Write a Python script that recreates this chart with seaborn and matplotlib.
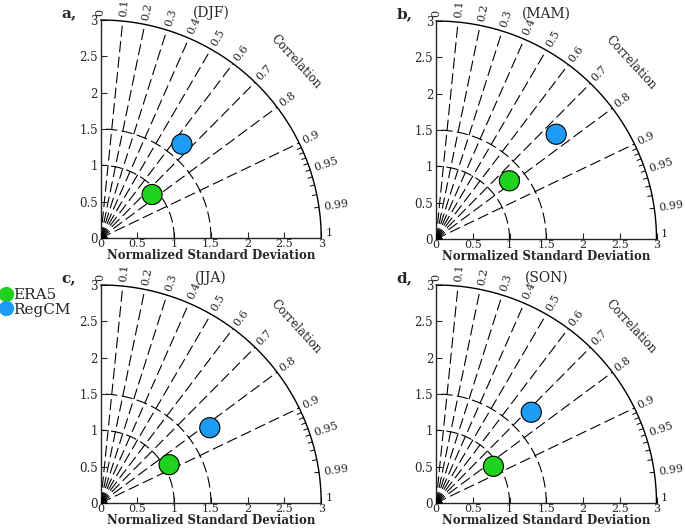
import numpy as np
import pandas as pd
import seaborn as sns
import matplotlib.pyplot as plt
from matplotlib.lines import Line2D

sns.set_style('ticks')
plt.rcParams['font.family'] = ['DejaVu Serif']

# data
seasons = ['DJF', 'MAM', 'JJA', 'SON']
panel_tags = ['a,', 'b,', 'c,', 'd,']
models = ['ERA5', 'RegCM']
era5_std = [0.92, 1.28, 1.07, 0.93]
era5_corr = [0.76, 0.78, 0.87, 0.84]
regcm_std = [1.70, 2.18, 1.81, 1.80]
regcm_corr = [0.65, 0.75, 0.82, 0.72]

corr_lines = [0.1, 0.2, 0.3, 0.4, 0.5, 0.6, 0.7, 0.8, 0.9]
corr_labels = [0, 0.1, 0.2, 0.3, 0.4, 0.5, 0.6, 0.7, 0.8, 0.9, 0.95, 0.99, 1]
corr_minor = [0.91, 0.92, 0.93, 0.94, 0.95, 0.96, 0.97, 0.98, 0.99]
std_arcs = [1.0, 1.5]
std_ticks = [0, 0.5, 1, 1.5, 2, 2.5, 3]
palette = {'ERA5': '#1ed21e', 'RegCM': '#1e9bf5'}

rows = []
for i, s in enumerate(seasons):
    rows.append([s, 'ERA5', era5_std[i], era5_corr[i]])
    rows.append([s, 'RegCM', regcm_std[i], regcm_corr[i]])
df = pd.DataFrame(rows, columns=['season', 'model', 'std', 'corr'])
df['x'] = df['std'] * df['corr']
df['y'] = df['std'] * np.sin(np.arccos(df['corr']))

fig = plt.figure(figsize=(6.85, 5.28), dpi=100)
w, h = 220.5 / 685, 218 / 528
positions = [(100.7 / 685, 290 / 528), (436 / 685, 289 / 528),
             (100.7 / 685, 25 / 528), (436 / 685, 25 / 528)]

dash = (0, (10, 4))
t = np.linspace(0, np.pi / 2, 300)

for k, s in enumerate(seasons):
    ax = fig.add_axes([positions[k][0], positions[k][1], w, h])
    ax.set_xlim(0, 3)
    ax.set_ylim(0, 3)

    # radial correlation lines
    for c in corr_lines:
        a = np.arccos(c)
        ax.plot([0, 3 * np.cos(a)], [0, 3 * np.sin(a)], color='black',
                lw=0.8, ls=dash, zorder=1)
    # std arcs
    for r in std_arcs:
        ax.plot(r * np.cos(t), r * np.sin(t), color='black', lw=0.8, ls=dash, zorder=1)
    # outer arc
    ax.plot(3 * np.cos(t), 3 * np.sin(t), color='black', lw=1.0, clip_on=False, zorder=2)
    for c in corr_minor:
        a = np.arccos(c)
        ax.plot([2.94 * np.cos(a), 3 * np.cos(a)], [2.94 * np.sin(a), 3 * np.sin(a)],
                color='black', lw=0.7, clip_on=False)
    for c in corr_labels:
        a = np.arccos(c)
        ax.text(3.06 * np.cos(a), 3.06 * np.sin(a), '%g' % c, fontsize=8,
                rotation=np.degrees(a), rotation_mode='anchor',
                ha='left', va='center' if c < 1 else 'bottom')
    ax.text(3.6 * np.cos(np.radians(42.5)), 3.6 * np.sin(np.radians(42.5)),
            'Correlation', fontsize=8.5, rotation=-47.5, ha='center', va='center')

    ax.scatter([0], [0], s=60, color='black', zorder=3, clip_on=True)
    sns.scatterplot(data=df[df['season'] == s], x='x', y='y', hue='model',
                    palette=palette, s=210, edgecolor='black', linewidth=0.8,
                    legend=False, ax=ax, zorder=5, clip_on=False)

    ax.set_xticks(std_ticks)
    ax.set_yticks(std_ticks)
    ax.set_xticklabels(['%g' % v for v in std_ticks])
    ax.set_yticklabels(['%g' % v for v in std_ticks])
    ax.tick_params(direction='in', length=4, width=0.8, labelsize=8.5, pad=2)
    ax.tick_params(axis='x', pad=0.5, labelsize=8)
    sns.despine(ax=ax)
    ax.spines['left'].set_linewidth(1.0)
    ax.spines['bottom'].set_linewidth(1.0)
    ax.set_xlabel('Normalized Standard Deviation', fontsize=8.5,
                  fontweight='bold', labelpad=0)
    ax.set_ylabel('')
    ax.text(1.5, 3.1, '(%s)' % s, fontsize=10, ha='center', va='center')
    ax.text(-0.43, 3.1, panel_tags[k], fontsize=11, fontweight='bold',
            ha='center', va='center')

handles = [Line2D([], [], marker='o', ls='', markersize=10,
                  markerfacecolor=palette[m], markeredgecolor=palette[m]) for m in models]
fig.legend(handles, models, loc='upper left', bbox_to_anchor=(-0.012, 0.466),
           frameon=False, fontsize=11, handletextpad=0.0, labelspacing=0.05,
           borderaxespad=0, handlelength=1.0)

fig.savefig('out.png', dpi=100)
